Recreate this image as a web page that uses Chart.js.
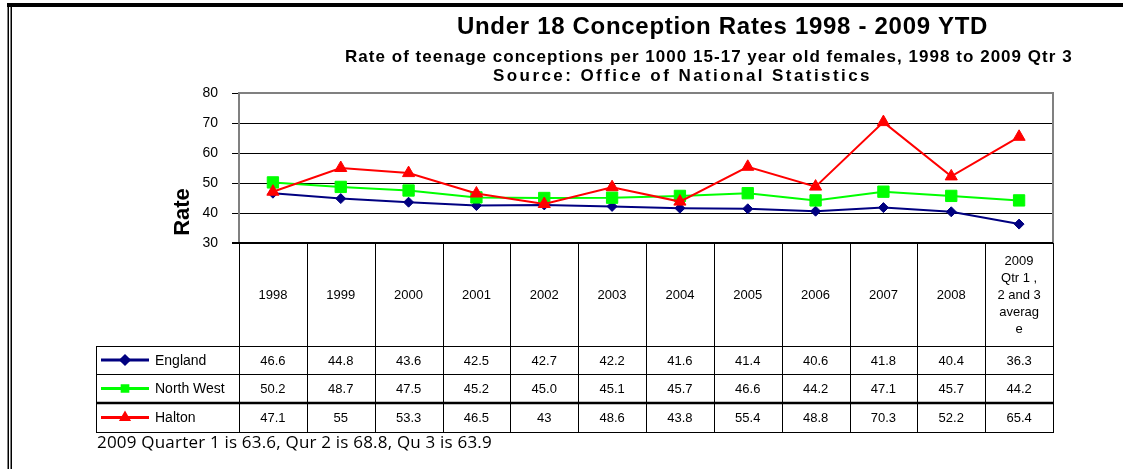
<!DOCTYPE html>
<html><head><meta charset="utf-8">
<script src="https://cdn.jsdelivr.net/npm/chart.js@4/dist/chart.umd.min.js"></script>
<style>html,body{margin:0;padding:0;background:#fff;overflow:hidden}#wrap{width:1123px;height:469px;position:relative}</style>
</head><body><div id="wrap"><canvas id="c" width="1123" height="469"></canvas></div>
<script>
const categories = ['1998','1999','2000','2001','2002','2003','2004','2005','2006','2007','2008','2009 Qtr 1 , 2 and 3 average'];
const categoryLines = [['1998'],['1999'],['2000'],['2001'],['2002'],['2003'],['2004'],['2005'],['2006'],['2007'],['2008'],['2009','Qtr 1 ,','2 and 3','averag','e']];
const seriesNames = ['England','North West','Halton'];
const england = [46.6,44.8,43.6,42.5,42.7,42.2,41.6,41.4,40.6,41.8,40.4,36.3];
const northWest = [50.2,48.7,47.5,45.2,45.0,45.1,45.7,46.6,44.2,47.1,45.7,44.2];
const halton = [47.1,55,53.3,46.5,43,48.6,43.8,55.4,48.8,70.3,52.2,65.4];
const yTicks = [30,40,50,60,70,80];
const titleText = 'Under 18 Conception Rates 1998 - 2009 YTD';
const subtitleText = 'Rate of teenage conceptions per 1000 15-17 year old females, 1998 to 2009 Qtr 3';
const sourceText = 'Source: Office of National Statistics';
const yTitle = 'Rate';
const noteText = '2009 Quarter 1 is 63.6, Qur 2 is 68.8, Qu 3 is 63.9';

const colors = ['#000080','#00ff00','#ff0000'];
const styles = ['rectRot','rect','triangle'];
const radii = [5,8,7];
const seriesData = [england, northWest, halton];
const fmt = [v=>v.toFixed(1), v=>v.toFixed(1), v=>String(v)];

const TABLE = {rows:[346,374,403,432], legendLeft:96};

function fitText(ctx, text, left, right, y, font){
  ctx.save();
  ctx.font = font;
  ctx.textAlign = 'left';
  ctx.letterSpacing = '0px';
  const w = ctx.measureText(text).width;
  const sp = Math.max(0, (right - left - w) / (text.length));
  ctx.letterSpacing = sp.toFixed(2) + 'px';
  ctx.fillText(text, left, y);
  ctx.restore();
}

const deco = {
  id:'deco',
  beforeDatasetsDraw(chart){
    const {ctx, chartArea:a} = chart;
    ctx.save();
    ctx.strokeStyle = '#808080'; ctx.lineWidth = 2;
    ctx.beginPath();
    ctx.moveTo(a.left, a.bottom); ctx.lineTo(a.left, a.top); ctx.lineTo(a.right, a.top); ctx.lineTo(a.right, a.bottom);
    ctx.stroke();
    ctx.strokeStyle = '#000'; ctx.lineWidth = 2;
    ctx.beginPath(); ctx.moveTo(a.left-7, a.bottom); ctx.lineTo(a.right, a.bottom); ctx.stroke();
    ctx.restore();
  },
  afterDraw(chart){
    const {ctx, chartArea:a} = chart;
    ctx.save();
    // outer frame
    ctx.strokeStyle = '#000';
    ctx.lineWidth = 4; ctx.beginPath(); ctx.moveTo(7,5); ctx.lineTo(1123,5); ctx.stroke();
    ctx.lineWidth = 1.5;
    ctx.beginPath(); ctx.moveTo(8.25,3); ctx.lineTo(8.25,469); ctx.moveTo(11.25,5); ctx.lineTo(11.25,469); ctx.stroke();
    // titles
    ctx.fillStyle = '#000'; ctx.textBaseline = 'middle';
    fitText(ctx, titleText, 457, 988, 27, 'bold 24px "Liberation Sans", Arial, sans-serif');
    fitText(ctx, subtitleText, 345, 1073, 57, 'bold 17px "Liberation Sans", Arial, sans-serif');
    fitText(ctx, sourceText, 493, 872, 76, 'bold 17px "Liberation Sans", Arial, sans-serif');
    // y title
    ctx.textAlign = 'center';
    ctx.save();
    ctx.translate(183, 212); ctx.rotate(-Math.PI/2);
    ctx.font = 'bold 22px "Liberation Sans", Arial, sans-serif';
    ctx.fillText(yTitle, 0, 0);
    ctx.restore();
    // table
    const xs = chart.scales.x;
    const n = categories.length;
    const colW = (a.right - a.left) / n;
    const rows = TABLE.rows;
    ctx.strokeStyle = '#000'; ctx.lineWidth = 1;
    ctx.beginPath();
    for (let k=0;k<=n;k++){
      const x = Math.round(a.left + k*colW) + 0.5;
      ctx.moveTo(x, a.bottom); ctx.lineTo(x, rows[3]);
    }
    ctx.moveTo(TABLE.legendLeft+0.5, rows[0]); ctx.lineTo(TABLE.legendLeft+0.5, rows[3]);
    [rows[0], rows[1], rows[3]].forEach(y=>{ctx.moveTo(TABLE.legendLeft, y+0.5); ctx.lineTo(a.right+1, y+0.5);});
    ctx.stroke();
    ctx.lineWidth = 2.5;
    ctx.beginPath(); ctx.moveTo(TABLE.legendLeft, rows[2]); ctx.lineTo(a.right+1, rows[2]); ctx.stroke();
    // header labels
    ctx.font = '13px "Liberation Sans", Arial, sans-serif';
    ctx.fillStyle = '#000';
    const hc = (a.bottom + rows[0]) / 2 + 1;
    categoryLines.forEach((lines, i)=>{
      const cx = xs.getPixelForValue(i);
      const lh = 17;
      lines.forEach((t, j)=>{
        ctx.fillText(t, cx, hc + (j - (lines.length-1)/2)*lh);
      });
    });
    // rows
    seriesNames.forEach((name, r)=>{
      const cy = (rows[r] + rows[r+1]) / 2 + 1;
      ctx.strokeStyle = colors[r]; ctx.lineWidth = 3;
      ctx.beginPath(); ctx.moveTo(101, cy-1); ctx.lineTo(149, cy-1); ctx.stroke();
      ctx.fillStyle = colors[r];
      Chart.helpers.drawPoint(ctx, {pointStyle: styles[r], radius: 4, rotation: 0, borderWidth: 1}, 125, cy-1);
      ctx.fillStyle = '#000';
      ctx.textAlign = 'left';
      ctx.font = '14px "Liberation Sans", Arial, sans-serif';
      ctx.fillText(name, 155, cy);
      ctx.textAlign = 'center';
      ctx.font = '13px "Liberation Sans", Arial, sans-serif';
      seriesData[r].forEach((v, i)=>{
        ctx.fillText(fmt[r](v), xs.getPixelForValue(i), cy);
      });
    });
    // note
    fitText(ctx, noteText, 97, 492, 443, '17px "Open Sans", sans-serif');
    ctx.restore();
  }
};

new Chart(document.getElementById('c'), {
  type: 'line',
  data: {
    labels: categories,
    datasets: seriesNames.map((name, r)=>({
      label: name,
      data: seriesData[r],
      borderColor: colors[r],
      backgroundColor: colors[r],
      borderWidth: 2,
      pointStyle: styles[r],
      pointRadius: radii[r],
      pointBorderWidth: 1,
      pointBorderColor: colors[r],
      pointBackgroundColor: colors[r],
      tension: 0,
      order: 3 - r
    }))
  },
  options: {
    responsive: false,
    animation: false,
    devicePixelRatio: 1,
    layout: {padding: {left:167, top:93, right:70, bottom:0}},
    plugins: {legend:{display:false}, tooltip:{enabled:false}, title:{display:false}},
    scales: {
      x: {
        offset: true,
        grid: {display:false},
        border: {display:false},
        ticks: {display:false},
        afterFit(s){ s.height = 469 - 243; }
      },
      y: {
        min: 30, max: 80,
        afterBuildTicks(s){ s.ticks = yTicks.map(v=>({value:v})); },
        ticks: {color:'#000', padding: 14, font:{family:'"Liberation Sans", Arial, sans-serif', size:14}},
        grid: {
          color: c => (c.tick && (c.tick.value===30 || c.tick.value===80)) ? 'rgba(0,0,0,0)' : '#000',
          tickColor: '#000', tickLength: 7, lineWidth: 1
        },
        border: {display:false},
        afterFit(s){ s.width = 72; }
      }
    }
  },
  plugins: [deco]
});
</script>
</body></html>
